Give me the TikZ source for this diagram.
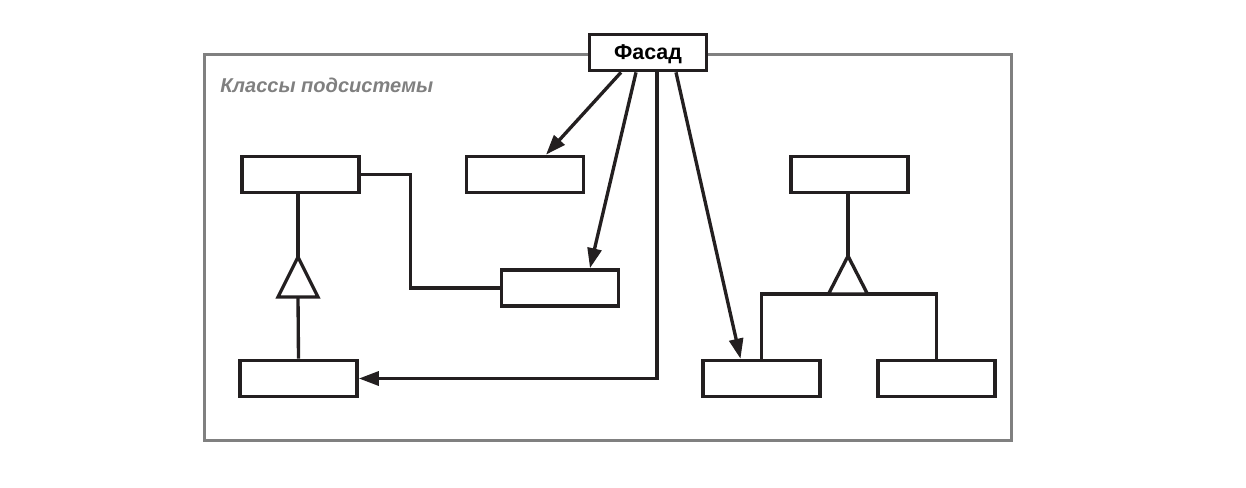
\documentclass[tikz,border=0pt]{standalone}
\usepackage{fontspec}
\setmainfont{Liberation Sans}
\definecolor{ink}{RGB}{35, 31, 32}
\definecolor{framegray}{RGB}{128, 128, 128}
\usetikzlibrary{arrows.meta, positioning, calc}

\begin{document}
\begin{tikzpicture}[x=0.02cm, y=-0.02cm,
    cls/.style={draw=ink, line width=2.1pt, fill=white, minimum width=2.34cm,
      minimum height=0.72cm, inner sep=0pt},
    link/.style={draw=ink, line width=1.9pt},
    call/.style={link, -{Triangle[length=0.4cm, width=0.28cm]}},
    inherit/.style={draw=ink, line width=1.9pt, fill=white, line join=miter}]
    \useasboundingbox (0,0) rectangle (1246,487);
    \draw[framegray, line width=1.9pt] (204.5,54.5) rectangle (1011.5,440.5);
    \node[anchor=base west, inner sep=0pt, text=framegray,
      font=\bfseries\itshape\fontsize{11.4}{14}\selectfont] (subsys) at (220,92) {Классы подсистемы};

    \node[cls, text depth=0pt, font=\bfseries\fontsize{12.2}{15}\selectfont] (facade) at (648,52.5) {Фасад};
    \node[cls] (clsA) at (300.5,174.5) {};
    \node[cls] (clsB) at (525,174.5) {};
    \node[cls] (clsC) at (560,288) {};
    \node[cls] (clsD) at (298.5,378.5) {};
    \node[cls] (clsE) at (761.5,378.5) {};
    \node[cls] (clsF) at (849.5,174.5) {};
    \node[cls] (clsG) at (936.5,378.5) {};

    \draw[call] ([xshift=-0.54cm]facade.south) -- ([xshift=0.42cm]clsB.north);
    \draw[call] ([xshift=-0.24cm]facade.south) -- ([xshift=0.6cm]clsC.north);
    \draw[call] ([xshift=0.18cm]facade.south) |- (clsD.east);
    \draw[call] ([xshift=0.56cm]facade.south) -- ([xshift=-0.42cm]clsE.north);

    \draw[link] (clsA.east) -| ([xshift=-1.78cm]clsC.west) -- (clsC.west);

    \coordinate (tipA) at (298,257);
    \coordinate (baseA) at (298,297);
    \draw[link] (tipA |- clsA.south) -- (tipA);
    \draw[link] (baseA) -- (clsD.north);
    \draw[inherit] (tipA) -- ++(20,40) -- ++(-40,0) -- cycle;

    \coordinate (tipF) at (848,256);
    \coordinate (baseF) at (848,294);
    \draw[link] (tipF |- clsF.south) -- (tipF);
    \draw[link] (clsE.north) |- (baseF) -| (clsG.north);
    \draw[inherit] (tipF) -- ++(19.5,38) -- ++(-39,0) -- cycle;
\end{tikzpicture}
\end{document}
